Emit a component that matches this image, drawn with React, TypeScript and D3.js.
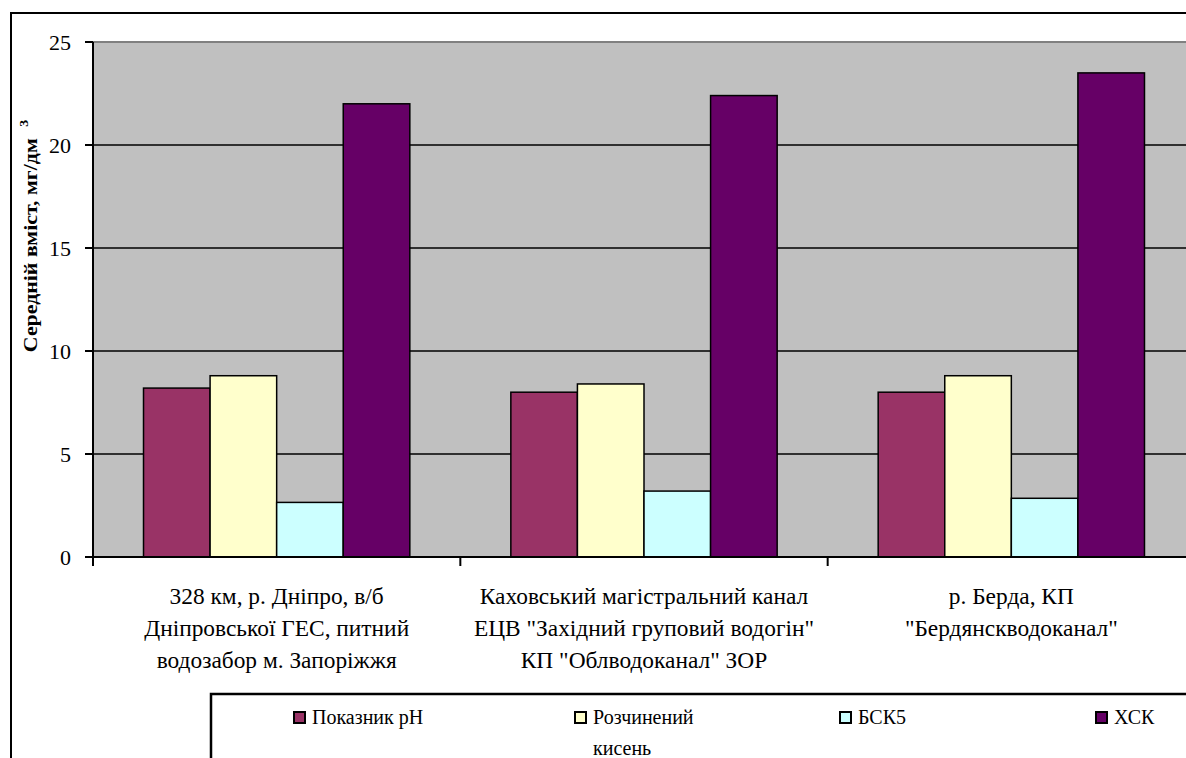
import React from "react";
import * as d3 from "d3";

const categories: string[][] = [
  ["328 км, р. Дніпро, в/б", "Дніпровської ГЕС, питний", "водозабор м. Запоріжжя"],
  ["Каховський магістральний канал", "ЕЦВ \"Західний груповий водогін\"", "КП \"Облводоканал\" ЗОР"],
  ["р. Берда, КП", "\"Бердянскводоканал\""],
];
const seriesNames = ["Показник pH", "Розчинений кисень", "БСК5", "ХСК"];
const seriesColors = ["#993366", "#FFFFCC", "#CCFFFF", "#660066"];
const phValues = [8.2, 8.0, 8.0];
const oxygenValues = [8.8, 8.4, 8.8];
const bodValues = [2.65, 3.2, 2.85];
const codValues = [22.0, 22.4, 23.5];
const yTicks = [0, 5, 10, 15, 20, 25];

const W = 1186;
const H = 758;
const left = 93;
const right = 1195;
const top = 42;
const bottom = 557;
const FONT = '"Liberation Serif", "Times New Roman", Times, serif';

export default function App() {
  const series = [phValues, oxygenValues, bodValues, codValues];
  const x0 = d3
    .scaleBand<number>()
    .domain(categories.map((_, i) => i))
    .range([left, right])
    .paddingInner(0)
    .paddingOuter(0);
  const groupPad = 0.1375;
  const x1 = d3
    .scaleBand<number>()
    .domain(seriesNames.map((_, i) => i))
    .range([x0.bandwidth() * groupPad, x0.bandwidth() * (1 - groupPad)]);
  const y = d3.scaleLinear().domain([0, 25]).range([bottom, top]);
  const ts = { fontFamily: FONT };

  const legendX = [294, 575, 840, 1096];

  return (
    <svg
      width={W}
      height={H}
      style={{ position: "absolute", left: 0, top: 0, display: "block", fontFamily: FONT }}
    >
      <rect x={0} y={0} width={W} height={H} fill="#fff" />
      <path d={`M11,${H + 5} L11,13 L${W + 5},13`} fill="none" stroke="#000" strokeWidth={2} />
      <rect x={left} y={top} width={right - left} height={bottom - top} fill="#C0C0C0" />
      <line x1={left} x2={right} y1={top} y2={top} stroke="#808080" strokeWidth={2} />
      {yTicks
        .filter((t) => t > 0 && t < 25)
        .map((t) => (
          <line key={t} x1={left} x2={right} y1={y(t)} y2={y(t)} stroke="#000" strokeWidth={1.5} />
        ))}
      {categories.map((_, ci) =>
        series.map((vals, si) => (
          <rect
            key={`${ci}-${si}`}
            x={(x0(ci) as number) + (x1(si) as number)}
            y={y(vals[ci])}
            width={x1.bandwidth()}
            height={bottom - y(vals[ci])}
            fill={seriesColors[si]}
            stroke="#000"
            strokeWidth={1.5}
          />
        ))
      )}
      <line x1={left} x2={left} y1={top} y2={bottom + 9} stroke="#000" strokeWidth={2} />
      <line x1={left - 8} x2={right} y1={bottom} y2={bottom} stroke="#000" strokeWidth={2} />
      {yTicks.map((t) => (
        <g key={t}>
          <line x1={left - 8} x2={left} y1={y(t)} y2={y(t)} stroke="#000" strokeWidth={2} />
          <text x={left - 22} y={y(t)} dy="0.35em" textAnchor="end" fontSize={22} fill="#000" style={ts}>
            {t}
          </text>
        </g>
      ))}
      {categories.map((_, ci) => (
        <line
          key={ci}
          x1={x0(ci) as number}
          x2={x0(ci) as number}
          y1={bottom}
          y2={bottom + 9}
          stroke="#000"
          strokeWidth={2}
        />
      ))}
      {categories.map((lines, ci) => (
        <text
          key={ci}
          x={(x0(ci) as number) + x0.bandwidth() / 2}
          y={604}
          textAnchor="middle"
          fontSize={23.4}
          fill="#000"
          style={ts}
        >
          {lines.map((ln, li) => (
            <tspan key={li} x={(x0(ci) as number) + x0.bandwidth() / 2} dy={li === 0 ? 0 : 32}>
              {ln}
            </tspan>
          ))}
        </text>
      ))}
      <text
        transform={`translate(37, 236) rotate(-90) scale(1.15, 1)`}
        textAnchor="middle"
        fontSize={19}
        fontWeight="bold"
        fill="#000"
        style={ts}
      >
        Середній вміст, мг/дм
        <tspan dx={10} dy={-9} fontSize={12}>
          3
        </tspan>
      </text>
      <path d={`M211,${H + 5} L211,694 L${W + 5},694`} fill="none" stroke="#000" strokeWidth={2.5} />
      {seriesNames.map((name, si) => (
        <g key={si}>
          <rect
            x={legendX[si]}
            y={712}
            width={11}
            height={11}
            fill={seriesColors[si]}
            stroke="#000"
            strokeWidth={2}
          />
          {si === 1 ? (
            <text x={legendX[si] + 18} y={724} fontSize={20} fill="#000" style={ts}>
              <tspan x={legendX[si] + 18}>Розчинений</tspan>
              <tspan x={legendX[si] + 18} dy={31}>
                кисень
              </tspan>
            </text>
          ) : (
            <text x={legendX[si] + 18} y={724} fontSize={20} fill="#000" style={ts}>
              {name}
            </text>
          )}
        </g>
      ))}
    </svg>
  );
}
